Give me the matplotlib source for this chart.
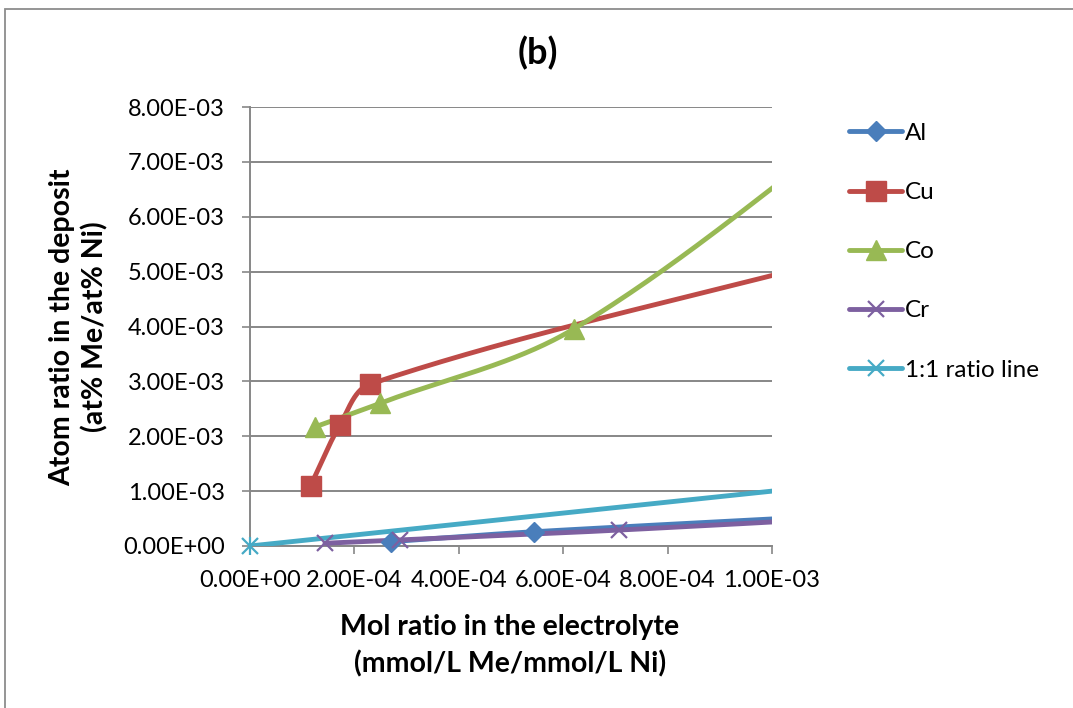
import numpy as np
import matplotlib
matplotlib.use("Agg")
import matplotlib.pyplot as plt
from matplotlib.lines import Line2D
from matplotlib.patches import Rectangle

plt.rcParams['font.family'] = ['Lato', 'DejaVu Sans']

# data (points beyond 1.00E-03 are clipped by the axis)
al_x = [2.71e-4, 5.44e-4, 1.36e-3]
al_y = [8.0e-5, 2.6e-4, 6.7e-4]
cu_x = [1.16e-4, 1.72e-4, 2.30e-4, 1.15e-3]
cu_y = [1.10e-3, 2.20e-3, 2.95e-3, 5.30e-3]
co_x = [1.245e-4, 2.49e-4, 6.21e-4, 1.245e-3]
co_y = [2.17e-3, 2.60e-3, 3.96e-3, 8.30e-3]
cr_x = [1.437e-4, 2.87e-4, 7.06e-4, 1.41e-3]
cr_y = [5.0e-5, 1.1e-4, 2.9e-4, 6.5e-4]
ref_x = [0.0, 1.5e-3]
ref_y = [0.0, 1.5e-3]

x_ticks = [0, 2e-4, 4e-4, 6e-4, 8e-4, 1e-3]
y_ticks = [i * 1e-3 for i in range(9)]

GRID = '#878787'
XSPAN, YSPAN = 1e-3, 8e-3
XPIX, YPIX = 522.0, 439.0


def smooth(xs, ys, n=80):
    """Excel-like smoothed line: Bezier handles along the neighbour chord,
    sized by the segment length (in screen proportions)."""
    p = np.column_stack([np.asarray(xs) / XSPAN * XPIX, np.asarray(ys) / YSPAN * YPIX])
    if len(p) < 3:
        return list(xs), list(ys)
    ext = np.vstack([p[0], p, p[-1]])
    t = np.linspace(0, 1, n)[:, None]
    out = []
    for i in range(1, len(ext) - 2):
        p0, p1, p2, p3 = ext[i - 1], ext[i], ext[i + 1], ext[i + 2]
        L = np.linalg.norm(p2 - p1)
        d1 = p2 - p0
        d2 = p3 - p1
        c1 = p1 + d1 / np.linalg.norm(d1) * L / 3
        c2 = p2 - d2 / np.linalg.norm(d2) * L / 3
        seg = ((1 - t) ** 3) * p1 + 3 * ((1 - t) ** 2) * t * c1 + 3 * (1 - t) * t ** 2 * c2 + t ** 3 * p2
        out.append(seg)
    s = np.vstack(out)
    return s[:, 0] / XPIX * XSPAN, s[:, 1] / YPIX * YSPAN


fig = plt.figure(figsize=(10.73, 7.08), dpi=100)
fig.patches.append(Rectangle((5 / 1073, -0.1), 1.2, (708 - 9) / 708 + 0.1, transform=fig.transFigure,
                             fill=False, edgecolor='#8c8c8c', linewidth=1.3))
ax = fig.add_axes([250 / 1073, (708 - 546) / 708, 522 / 1073, 439 / 708])

ax.set_xlim(0, 1e-3)
ax.set_ylim(0, 8e-3)
ax.set_xticks(x_ticks)
ax.set_yticks(y_ticks)
ax.set_xticklabels(['%.2E' % v for v in x_ticks], fontsize=17)
ax.set_yticklabels(['%.2E' % v for v in y_ticks], fontsize=17)
ax.yaxis.grid(True, color=GRID, linewidth=1.4)
ax.set_axisbelow(True)
for side in ['top', 'right']:
    ax.spines[side].set_visible(False)
for side in ['left', 'bottom']:
    ax.spines[side].set_color(GRID)
    ax.spines[side].set_linewidth(1.4)
ax.tick_params(direction='out', length=6, width=1.2, color=GRID)
ax.tick_params(axis='x', pad=11)
ax.tick_params(axis='y', pad=12)

series = [
    ('Al', al_x, al_y, '#4A7EBB', 'D', 10, dict()),
    ('Cu', cu_x, cu_y, '#BE4B48', 's', 14, dict()),
    ('Co', co_x, co_y, '#98B954', '^', 14, dict()),
    ('Cr', cr_x, cr_y, '#7D60A0', 'x', 12, dict(markeredgewidth=1.6)),
    ('1:1 ratio line', ref_x, ref_y, '#46AAC5', 'x', 11, dict(markeredgewidth=1.6)),
]

handles = []
for name, xs, ys, col, mk, ms, extra in series:
    sx, sy = smooth(xs, ys)
    ax.plot(sx, sy, color=col, linewidth=3.5, solid_capstyle='round', zorder=3)
    inside = [(a, b) for a, b in zip(xs, ys) if a <= 1e-3]
    mx = [a for a, b in inside]
    my = [b for a, b in inside]
    ax.plot(mx, my, linestyle='none', marker=mk, markersize=ms, color=col,
            markeredgecolor=col, clip_on=False, zorder=4, **extra)
    if name == '1:1 ratio line':
        ax.plot(mx, my, linestyle='none', marker='|', markersize=ms + 2, color=col,
                markeredgewidth=1.6, clip_on=False, zorder=4)
    handles.append(Line2D([0], [0], color=col, linewidth=3.5, marker=mk, markersize=ms,
                          markeredgecolor=col, solid_capstyle='round', **extra))

leg = fig.legend(handles, [s[0] for s in series], loc='upper left',
                 bbox_to_anchor=(827 / 1073, 1 - 101 / 708), frameon=False,
                 fontsize=17.5, labelspacing=1.57, handlelength=2.2, handletextpad=0.1)

fig.text(538 / 1073, 1 - 53 / 708, '(b)', ha='center', va='center', fontsize=26, fontweight='bold')
fig.text(510 / 1073, 1 - 646 / 708, 'Mol ratio in the electrolyte\n(mmol/L Me/mmol/L Ni)',
         ha='center', va='center', fontsize=20.5, fontweight='bold', linespacing=1.45)
fig.text(79 / 1073, 1 - 327 / 708, 'Atom ratio in the deposit\n(at% Me/at% Ni)',
         ha='center', va='center', rotation=90, fontsize=20.5, fontweight='bold', linespacing=1.3)

fig.savefig('out.png', dpi=100)
